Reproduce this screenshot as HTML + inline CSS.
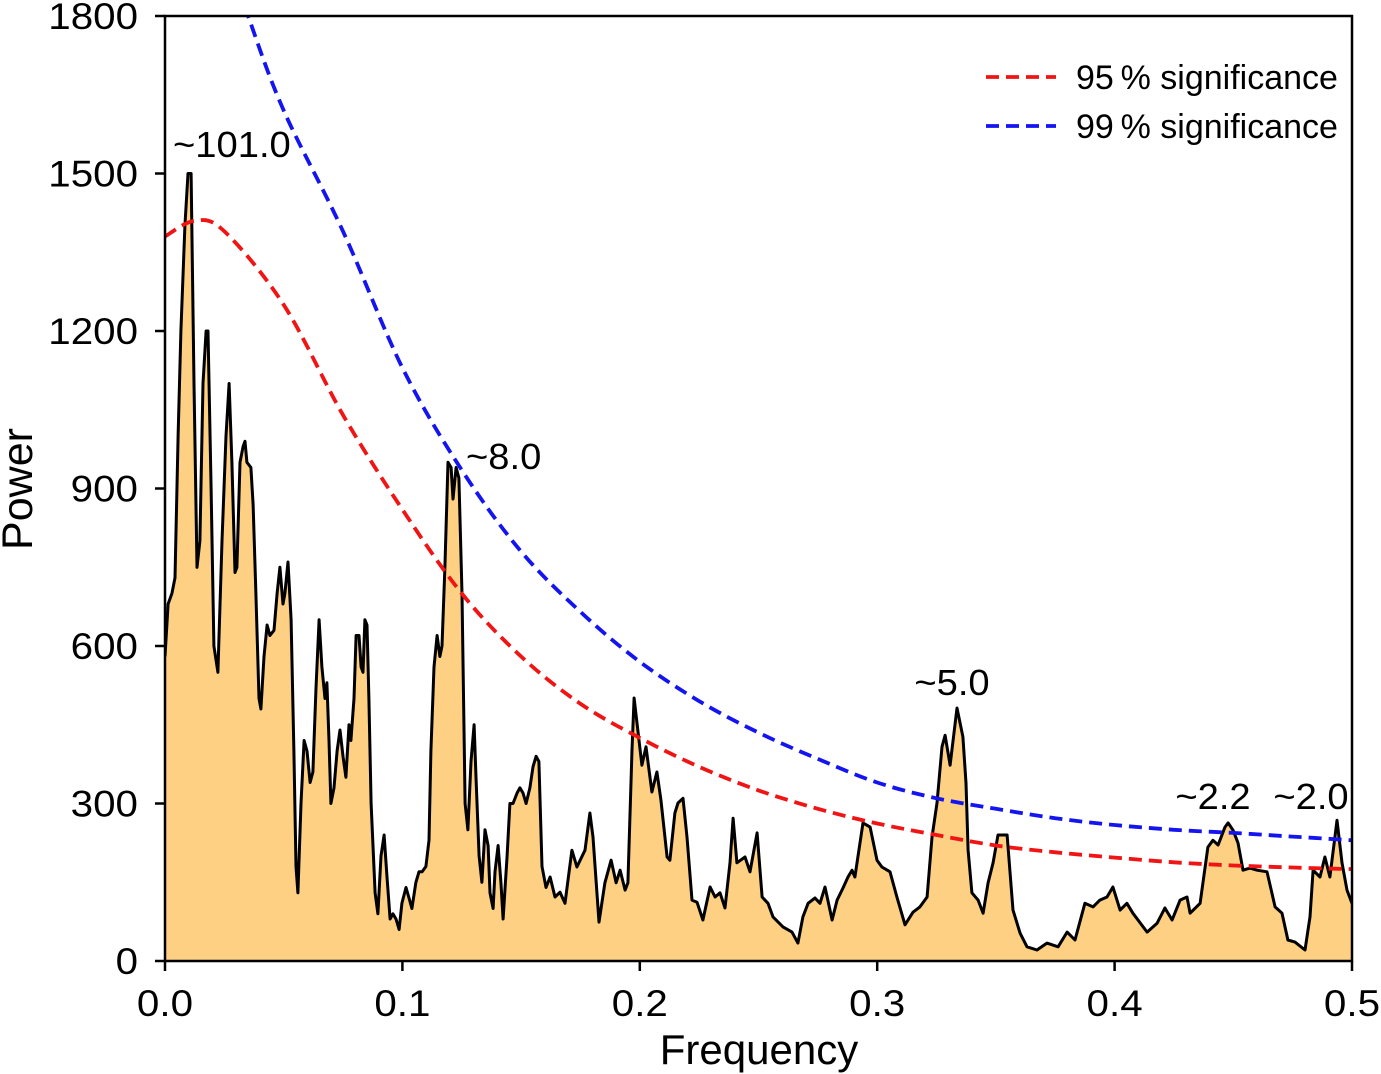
<!DOCTYPE html>
<html><head><meta charset="utf-8">
<style>
html,body{margin:0;padding:0;background:#fff;}
svg{display:block;font-family:"Liberation Sans",Arial,sans-serif;}
</style></head>
<body>
<svg id="chart" width="1381" height="1074" viewBox="0 0 1381 1074" xmlns="http://www.w3.org/2000/svg">
<defs><clipPath id="plotclip"><rect x="165" y="16" width="1187" height="945"/></clipPath></defs>
<g id="plot" clip-path="url(#plotclip)"></g>
<g id="axes"></g>
</svg>
<script>
const freqs = [0,.0013,.0029,.0042,.0055,.0067,.0084,.0097,.0110,.0122,.0135,.0147,.0160,.0173,.0181,.0194,.0206,.0223,.0240,.0257,.0270,.0282,.0295,.0303,.0316,.0329,.0337,.0345,.0362,.0371,.0383,.0396,.0404,.0417,.0430,.0442,.0459,.0472,.0484,.0497,.0505,.0518,.0531,.0543,.0552,.0560,.0573,.0586,.0598,.0611,.0623,.0636,.0649,.0661,.0674,.0682,.0691,.0699,.0712,.0725,.0737,.0750,.0762,.0775,.0783,.0796,.0805,.0817,.0826,.0834,.0842,.0851,.0859,.0868,.0885,.0897,.0910,.0923,.0935,.0948,.0960,.0973,.0986,.0998,.1015,.1028,.1040,.1057,.1070,.1083,.1099,.1112,.1120,.1133,.1146,.1158,.1167,.1179,.1192,.1205,.1213,.1226,.1238,.1251,.1264,.1276,.1289,.1302,.1310,.1323,.1335,.1348,.1361,.1369,.1382,.1390,.1403,.1415,.1424,.1441,.1453,.1466,.1483,.1495,.1508,.1521,.1537,.1550,.1563,.1575,.1588,.1605,.1622,.1643,.1664,.1685,.1714,.1735,.1769,.1790,.1803,.1828,.1853,.1879,.1900,.1917,.1938,.1950,.1967,.1976,.1988,.2009,.2026,.2051,.2072,.2089,.2115,.2127,.2148,.2161,.2182,.2199,.2220,.2241,.2266,.2296,.2317,.2338,.2359,.2380,.2393,.2409,.2443,.2464,.2494,.2515,.2540,.2561,.2603,.2641,.2666,.2687,.2709,.2738,.2759,.2780,.2810,.2831,.2856,.2877,.2894,.2906,.2940,.2970,.2999,.3020,.3054,.3083,.3117,.3151,.3180,.3210,.3231,.3252,.3273,.3286,.3307,.3336,.3361,.3374,.3383,.3399,.3425,.3446,.3467,.3488,.3509,.3547,.3572,.3602,.3631,.3673,.3715,.3762,.3800,.3833,.3875,.3909,.3938,.3968,.3993,.4023,.4052,.4077,.4137,.4179,.4212,.4242,.4276,.4305,.4318,.4360,.4393,.4414,.4436,.4465,.4478,.4499,.4520,.4541,.4570,.4600,.4642,.4676,.4705,.4730,.4760,.4802,.4823,.4836,.4865,.4886,.4907,.4937,.4958,.4979,.5000];
const powers = [580,680,700,730,1000,1200,1400,1500,1500,1100,750,800,1100,1200,1200,900,600,550,800,1000,1100,950,740,750,950,980,990,950,940,870,700,500,480,580,640,620,630,700,750,680,700,760,650,400,180,130,300,420,400,340,360,520,650,560,500,530,420,300,330,400,440,390,350,450,420,500,620,620,560,550,650,640,500,300,130,90,200,240,160,80,90,80,60,110,140,120,100,150,170,170,180,230,400,560,620,580,600,750,950,940,880,940,920,700,300,250,380,450,350,200,150,250,220,130,100,170,220,150,80,200,300,300,320,330,320,300,330,370,390,380,180,140,160,122,131,110,211,179,211,282,236,74,149,192,149,173,135,149,402,501,453,373,408,322,360,307,198,192,282,301,310,236,116,112,78,141,122,130,101,187,272,187,198,170,244,122,110,84,65,55,34,84,110,120,110,141,78,116,139,160,173,160,263,255,192,179,170,122,69,93,103,122,236,301,408,430,373,482,427,339,211,130,116,91,149,187,240,240,97,53,27,21,34,27,55,40,110,103,116,122,141,97,110,91,55,72,101,78,116,122,91,110,217,230,221,255,263,249,225,173,177,173,170,103,91,40,36,21,84,173,160,198,160,268,187,135,110];
const sigFreqs = [0,.0125,.025,.05,.075,.1,.125,.15,.175,.2,.225,.25,.275,.3,.325,.35,.375,.4,.425,.45,.475,.5];
const sig95 = [1380,1410,1390,1250,1040,860,700,580,490,425,370,325,290,262,240,220,207,197,188,182,178,175];
const sig99Freqs = [.02,.035,.05,.075,.1,.125,.15,.175,.2,.225,.25,.275,.3,.325,.35,.375,.4,.425,.45,.475,.5];
const sig99 = [2000,1800,1620,1390,1130,935,780,665,570,495,435,385,340,310,290,272,259,250,244,237,230];
const xTicks = [0,0.1,0.2,0.3,0.4,0.5];
const xTickLabels = ["0.0","0.1","0.2","0.3","0.4","0.5"];
const yTicks = [0,300,600,900,1200,1500,1800];
const peakLabels = ["~101.0","~8.0","~5.0","~2.2","~2.0"];
const peakFreqs = [0.0105,0.1265,0.3325,0.4465,0.4925];
const peakPowers = [1500,950,482,263,268];

const X0=165,X1=1352,Y0=961,Y1=16;
const xs=f=>X0+(f/0.5)*(X1-X0);
const ys=p=>Y0-(p/1800)*(Y0-Y1);
const NS="http://www.w3.org/2000/svg";
function mk(tag,attrs,parent){const e=document.createElementNS(NS,tag);for(const k in attrs)e.setAttribute(k,attrs[k]);parent.appendChild(e);return e;}
function stretch(t,k){const L=t.getComputedTextLength();if(L>0){t.setAttribute('textLength',(L*k).toFixed(1));t.setAttribute('lengthAdjust','spacingAndGlyphs');}}
const plot=document.getElementById('plot'), axes=document.getElementById('axes');

let line=freqs.map((f,i)=>(i?'L':'M')+xs(f).toFixed(1)+','+ys(powers[i]).toFixed(1)).join('');
const area=mk('path',{d:line+'L'+xs(freqs[freqs.length-1])+','+Y0+'L'+xs(freqs[0])+','+Y0+'Z',fill:'#FDD083',stroke:'none'},plot);


const pl=mk('path',{d:line,fill:'none',stroke:'#000','stroke-width':3,'stroke-linejoin':'round'},plot);



function smooth(fa,va){
  const p=fa.map((f,i)=>[xs(f),ys(va[i])]);
  let d='M'+p[0][0]+','+p[0][1];
  for(let i=0;i<p.length-1;i++){
    const a=p[i-1]||p[i],b=p[i],c=p[i+1],e=p[i+2]||c;
    const c1=[b[0]+(c[0]-a[0])/6,b[1]+(c[1]-a[1])/6],c2=[c[0]-(e[0]-b[0])/6,c[1]-(e[1]-b[1])/6];
    d+='C'+c1[0].toFixed(1)+','+c1[1].toFixed(1)+' '+c2[0].toFixed(1)+','+c2[1].toFixed(1)+' '+c[0].toFixed(1)+','+c[1].toFixed(1);
  }
  return d;
}
const r=mk('path',{d:smooth(sigFreqs,sig95),fill:'none',stroke:'#F01414','stroke-width':3.8,'stroke-dasharray':'13,7'},plot);


const b=mk('path',{d:smooth(sig99Freqs,sig99),fill:'none',stroke:'#1414F0','stroke-width':3.8,'stroke-dasharray':'13,7'},plot);



const fr=mk('rect',{x:X0,y:Y1,width:X1-X0,height:Y0-Y1,fill:'none',stroke:'#000','stroke-width':2.5},axes);


xTicks.forEach((t,i)=>{
  const x=xs(t);
  const tk=mk('line',{x1:x,x2:x,y1:Y0,y2:Y0+10,stroke:'#000','stroke-width':2.5},axes);
  
  
  const tx=mk('text',{x:x,y:1016,'font-size':37,'text-anchor':'middle',fill:'#000'},axes);
  tx.textContent=xTickLabels[i];
  
  
  stretch(tx,1.09);
});
yTicks.forEach(t=>{
  const y=ys(t);
  const tk=mk('line',{x1:X0-10,x2:X0,y1:y,y2:y,stroke:'#000','stroke-width':2.5},axes);
  
  
  const tx=mk('text',{x:138,y:y+13,'font-size':37,'text-anchor':'end',fill:'#000'},axes);
  tx.textContent=String(t);
  
  
  stretch(tx,1.09);
});
const xt=mk('text',{x:759,y:1064,'font-size':42,'text-anchor':'middle',fill:'#000'},axes);
xt.textContent='Frequency';


const yt=mk('text',{x:0,y:0,'font-size':43,'text-anchor':'middle',fill:'#000',transform:'translate(32,489) rotate(-90)'},axes);
yt.textContent='Power';



peakLabels.forEach((l,i)=>{
  let x=xs(peakFreqs[i]), y=ys(peakPowers[i])-16, anchor='middle';
  if(i===0){x=173;y=157;anchor='start';}
  if(i===1){x=466;y=469;anchor='start';}
  if(i===3){x=1213;y=809;}
  if(i===4){x=1311;y=809;}
  if(i===2){x=952;y=695;}
  const tx=mk('text',{x:x,y:y,'font-size':36,'text-anchor':anchor,fill:'#000'},axes);
  tx.textContent=l;
  
  
  stretch(tx,1.06);
});

const leg=mk('g',{},axes);


[['#F01414','95\u2009% significance',77],['#1414F0','99\u2009% significance',126]].forEach(([c,t,y])=>{
  const ln=mk('line',{x1:986,x2:1056,y1:y,y2:y,stroke:c,'stroke-width':3.8,'stroke-dasharray':'13,7'},leg);
  
  
  const tx=mk('text',{x:1076,y:y+12,'font-size':34,fill:'#000'},leg);
  tx.textContent=t;
  
  
});
</script>
</body></html>
